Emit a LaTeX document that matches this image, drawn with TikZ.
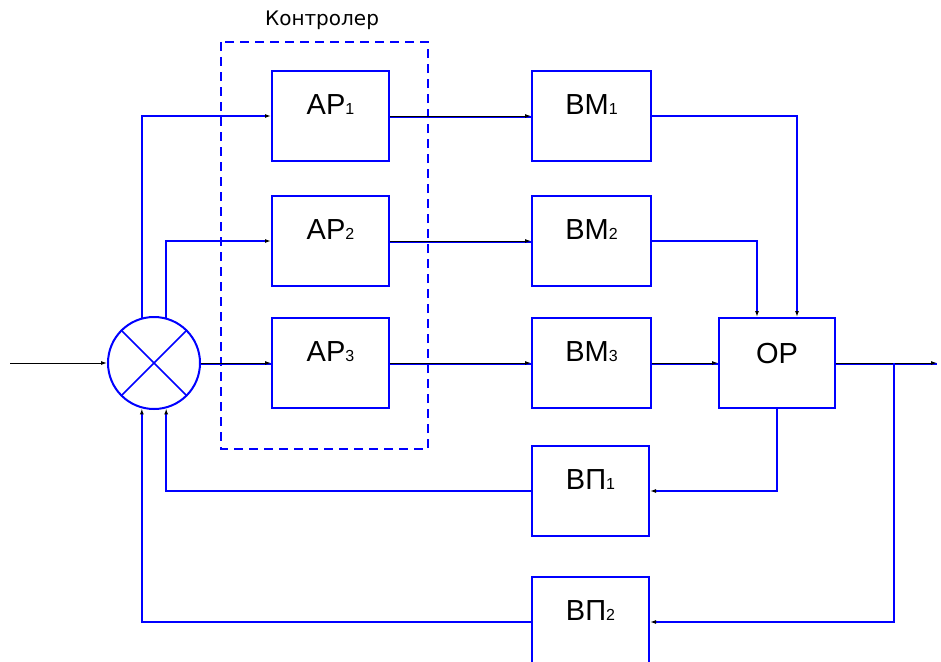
\documentclass[tikz,border=0pt]{standalone}
\usepackage{fontspec}
\setmainfont{Liberation Sans}
\newfontfamily\widefont{DejaVu Sans}
\usetikzlibrary{arrows.meta}
\newcommand\subix[1]{{\fontsize{16}{16}\selectfont #1}}
\begin{document}
\begin{tikzpicture}[x=1pt,y=-1pt,
  blk/.style={draw=blue, line width=2pt, minimum width=117pt, minimum height=90pt, inner sep=0pt},
  lbl/.style={font=\fontsize{29}{29}\selectfont, inner sep=0pt, anchor=base},
  tip/.style={-{Latex[black,length=6pt,width=4pt]}},
  wire/.style={draw=blue, line width=1.8pt, tip},
  inkwire/.style={draw=black, line width=1pt, tip, preaction={draw=blue, line width=1.6pt, -, transform canvas={yshift=-1pt}}},
  bare/.style={draw=black, line width=1pt, tip},
  dashbox/.style={draw=blue, line width=1.8pt, dash pattern=on 9pt off 6pt}
]
\useasboundingbox (0,0) rectangle (941,661);

% controller frame
\draw[dashbox] (221,42) rectangle (428,449);
\node[font=\widefont\fontsize{20}{20}\selectfont, inner sep=0pt] (ctl) at (322,20) {Контролер};

% summing junction
\node[draw=blue, line width=2pt, circle, minimum size=92pt, inner sep=0pt] (sum) at (154,363) {};
\draw[blue, line width=1.5pt] (sum.north west) -- (sum.south east);
\draw[blue, line width=1.5pt] (sum.north east) -- (sum.south west);

% blocks
\node[blk] (AP1) at (330.5,116) {};
\node[blk] (AP2) at (330.5,241) {};
\node[blk] (AP3) at (330.5,363) {};
\node[blk, minimum width=119pt] (BM1) at (591.5,116) {};
\node[blk, minimum width=119pt] (BM2) at (591.5,241) {};
\node[blk, minimum width=119pt] (BM3) at (591.5,363) {};
\node[blk, minimum width=116pt, minimum height=90pt] (plant) at (777,363) {};
\node[blk] (VP1) at (590.5,491) {};
\node[blk] (VP2) at (590.5,622) {};

% labels
\node[lbl] (AP1t) at ([yshift=1.5pt]AP1.center) {АР\subix{1}};
\node[lbl] (AP2t) at ([yshift=1.5pt]AP2.center) {АР\subix{2}};
\node[lbl] (AP3t) at ([yshift=1.5pt]AP3.center) {АР\subix{3}};
\node[lbl] (BM1t) at ([yshift=1.5pt]BM1.center) {ВМ\subix{1}};
\node[lbl] (BM2t) at ([yshift=1.5pt]BM2.center) {ВМ\subix{2}};
\node[lbl] (BM3t) at ([yshift=1.5pt]BM3.center) {ВМ\subix{3}};
\node[lbl] (plantt) at (plant.center) {ОР};
\node[lbl] (VP1t) at ([yshift=1.5pt]VP1.center) {ВП\subix{1}};
\node[lbl] (VP2t) at ([yshift=1.5pt]VP2.center) {ВП\subix{2}};

% coordinates
\coordinate (in) at (10,363);
\coordinate (out) at (937,363);
\coordinate (br) at (894,363);

% connectors
\draw[bare] (in) -- (sum.west);
\draw[wire] (sum.105) |- (AP1.west);
\draw[wire] (sum.75) |- (AP2.west);
\draw[inkwire] (sum.east) -- (AP3.west);
\draw[inkwire] (AP1.east) -- (BM1.west);
\draw[inkwire] (AP2.east) -- (BM2.west);
\draw[inkwire] (AP3.east) -- (BM3.west);
\draw[wire] (BM1.east) -| ([xshift=20pt]plant.north);
\draw[wire] (BM2.east) -| ([xshift=-20pt]plant.north);
\draw[inkwire] (BM3.east) -- (plant.west);
\draw[inkwire] (plant.east) -- (out);
\draw[wire] (br) |- (VP2.east);
\draw[wire] (plant.south) |- (VP1.east);
\draw[wire] (VP1.west) -| (sum.285);
\draw[wire] (VP2.west) -| (sum.255);
\end{tikzpicture}
\end{document}
